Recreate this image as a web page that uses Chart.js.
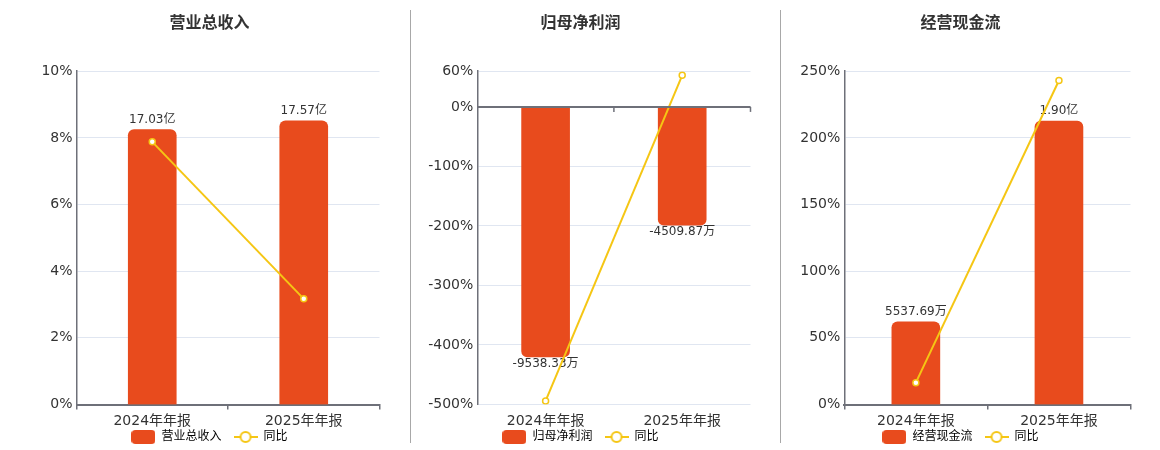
<!DOCTYPE html>
<html>
<head>
<meta charset="utf-8">
<script src="https://cdn.jsdelivr.net/npm/chart.js@4"></script>
<style>
  body { margin: 0; background: #fff; }
  #wrap { position: relative; width: 1160px; height: 450px; overflow: hidden; }
  #wrap canvas { position: absolute; top: 0; }
  .divider { position: absolute; top: 10px; height: 433px; width: 1px; background: #a8a8a8; }
</style>
</head>
<body>
<div id="wrap">
  <div class="divider" style="left:410px"></div>
  <div class="divider" style="left:780px"></div>
  <canvas id="c1" width="351" height="450" style="left:34px"></canvas>
  <canvas id="c2" width="351" height="450" style="left:405px"></canvas>
  <canvas id="c3" width="351" height="450" style="left:785px"></canvas>
</div>
<script>
// values in 万元, yoy in %
const categories = ['2024年年报', '2025年年报'];
const revenue = [170300, 175700];
const revenueYoy = [7.88, 3.17];
const netProfit = [-9538.33, -4509.87];
const netProfitYoy = [-494, 53];
const cashFlow = [5537.69, 19000];
const cashFlowYoy = [16.4, 243];
const ticksRevenue = [0, 2, 4, 6, 8, 10];
const ticksProfit = [-500, -400, -300, -200, -100, 0, 60];
const ticksCash = [0, 50, 100, 150, 200, 250];

const FONT = "'DejaVu Sans', 'Noto Sans CJK SC', sans-serif";
const BAR = '#E84B1D';
const LINE = '#F5C614';
const AXIS = '#6E7079';

function fmtMoney(v){
  // >= 1亿 shows 亿, else 万
  if (Math.abs(v) >= 10000) return (v / 10000).toFixed(2) + '亿';
  return v.toFixed(2) + '万';
}

// legend icons
function barIcon(){
  const c = document.createElement('canvas');
  c.width = 24; c.height = 14;
  const g = c.getContext('2d');
  g.fillStyle = BAR;
  g.beginPath();
  g.roundRect(0, 0, 24, 14, 4);
  g.fill();
  return c;
}
function lineIcon(){
  const c = document.createElement('canvas');
  c.width = 24; c.height = 14;
  const g = c.getContext('2d');
  g.strokeStyle = LINE;
  g.lineWidth = 2;
  g.beginPath(); g.moveTo(0, 7); g.lineTo(24, 7); g.stroke();
  g.fillStyle = '#fff';
  g.beginPath(); g.arc(12, 7, 5, 0, Math.PI * 2); g.fill(); g.stroke();
  return c;
}

const barLabels = {
  id: 'barLabels',
  beforeDatasetsDraw(chart){
    const ctx = chart.ctx;
    const ds = chart.data.datasets[0];
    const meta = chart.getDatasetMeta(0);
    ctx.save();
    ctx.font = '12px ' + FONT;
    ctx.fillStyle = '#333';
    ctx.textAlign = 'center';
    meta.data.forEach((bar, i) => {
      const v = ds.data[i];
      if (v >= 0){
        ctx.textBaseline = 'bottom';
        ctx.fillText(fmtMoney(v), bar.x, bar.y - 4);
      } else {
        ctx.textBaseline = 'top';
        ctx.fillText(fmtMoney(v), bar.x, bar.y + 1);
      }
    });
    ctx.restore();
  }
};

// tick marks hanging under a zero line that sits inside the plot
const zeroTicks = {
  id: 'zeroTicks',
  afterDatasetsDraw(chart, args, opts){
    if (!opts.on) return;
    const x = chart.scales.x, y = chart.scales.y;
    const y0 = y.getPixelForValue(0);
    const n = chart.data.labels.length;
    const ctx = chart.ctx;
    ctx.save();
    ctx.strokeStyle = AXIS;
    ctx.lineWidth = 2;
    ctx.beginPath();
    ctx.moveTo(x.left, y0); ctx.lineTo(x.right, y0);
    ctx.stroke();
    ctx.lineWidth = 1.5;
    for (let i = 1; i <= n; i++){
      const px = x.left + i * x.width / n;
      ctx.beginPath(); ctx.moveTo(px, y0); ctx.lineTo(px, y0 + 5); ctx.stroke();
    }
    ctx.restore();
  }
};

// pull the legend up so it sits tight under the axis labels
const legendShift = {
  id: 'legendShift',
  afterLayout(chart){
    const lg = chart.legend;
    if (!lg) return;
    lg.top -= 10.5;
    lg.bottom -= 10.5;
  }
};

function makeChart(id, title, name, bars, yoy, ticks, barMin, barMax, axisWidth){
  const zeroInside = ticks[0] < 0;
  return new Chart(document.getElementById(id), {
    type: 'bar',
    data: {
      labels: categories,
      datasets: [
        { type: 'bar', label: name, data: bars, yAxisID: 'yb', backgroundColor: BAR,
          barThickness: 48, borderRadius: 6, order: 1 },
        { type: 'line', label: '同比', data: yoy, yAxisID: 'y', borderColor: LINE, borderWidth: 2,
          pointRadius: 3, pointBackgroundColor: '#fff', pointBorderColor: LINE, pointBorderWidth: 1.5, order: 0 }
      ]
    },
    options: {
      responsive: false,
      animation: false,
      layout: { padding: { top: 0, bottom: -13.5, left: 0, right: 0 } },
      plugins: {
        title: { display: true, text: title, color: '#333',
          font: { size: 16, weight: 'bold', family: FONT }, padding: { top: 14, bottom: 38 } },
        legend: {
          position: 'bottom',
          labels: {
            usePointStyle: true, pointStyleWidth: 24, padding: 12, color: '#444',
            font: { size: 12, family: FONT },
            generateLabels: () => [
              { text: name, pointStyle: barIcon(), fillStyle: BAR, strokeStyle: BAR, lineWidth: 0, datasetIndex: 0 },
              { text: '同比', pointStyle: lineIcon(), fillStyle: LINE, strokeStyle: LINE, lineWidth: 0, datasetIndex: 1 }
            ]
          }
        },
        tooltip: { enabled: false },
        zeroTicks: { on: zeroInside }
      },
      scales: {
        x: {
          afterFit: s => { s.height = 25; },
          grid: { display: !zeroInside, drawOnChartArea: false, drawTicks: true, tickLength: 5, offset: true, color: AXIS, lineWidth: 1.5 },
          border: { display: !zeroInside, color: AXIS, width: 2 },
          ticks: { color: '#333', font: { size: 14, family: FONT }, padding: 3.5 }
        },
        y: {
          min: ticks[0], max: ticks[ticks.length - 1],
          afterBuildTicks: s => { s.ticks = ticks.map(v => ({ value: v })); },
          afterFit: s => { s.width = axisWidth; },
          grid: { color: '#E0E6F1', lineWidth: 1, drawTicks: false },
          border: { color: AXIS, width: 1.5 },
          ticks: { color: '#333', font: { size: 14, family: FONT }, padding: 4, callback: v => v + '%' }
        },
        yb: { display: false, min: barMin, max: barMax }
      }
    },
    plugins: [barLabels, zeroTicks, legendShift]
  });
}

makeChart('c1', '营业总收入', '营业总收入', revenue, revenueYoy, ticksRevenue, 0, 206460, 42.5);
makeChart('c2', '归母净利润', '归母净利润', netProfit, netProfitYoy, ticksProfit, -11355, 1362.6, 72.3);
makeChart('c3', '经营现金流', '经营现金流', cashFlow, cashFlowYoy, ticksCash, 0, 22342, 59.3);
</script>
</body>
</html>
